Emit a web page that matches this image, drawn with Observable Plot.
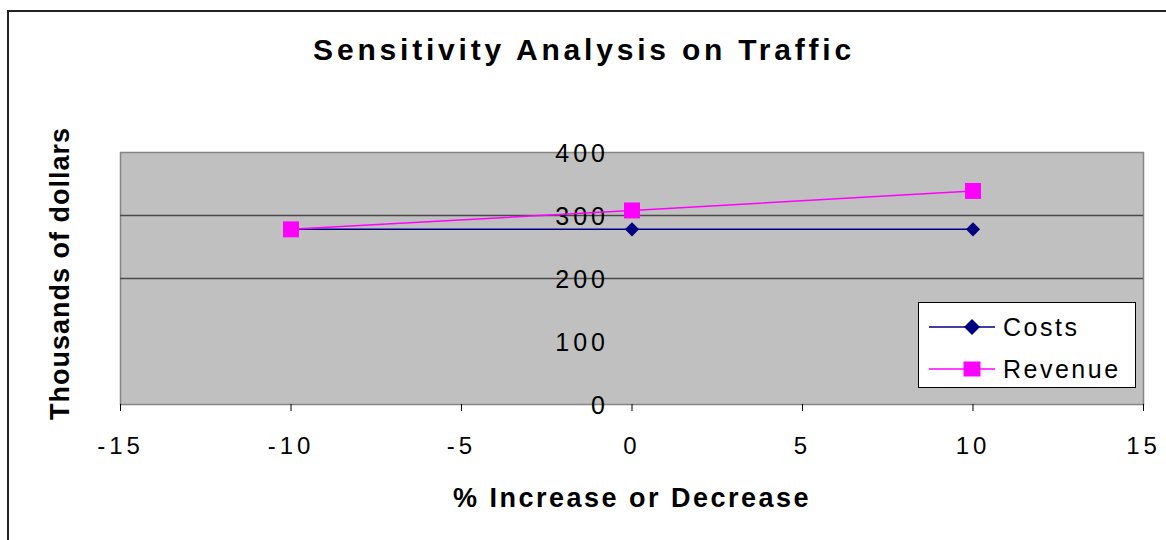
<!DOCTYPE html>
<html>
<head>
<meta charset="utf-8">
<script src="https://cdn.jsdelivr.net/npm/d3@7"></script>
<script src="https://cdn.jsdelivr.net/npm/@observablehq/plot@0.6"></script>
<style>
  html, body { margin: 0; padding: 0; background: #fff; }
  body { width: 1166px; height: 540px; overflow: hidden; position: relative; font-family: "Liberation Sans", Arial, sans-serif; }
  #outer { position: absolute; left: 7px; top: 10px; width: 1300px; height: 700px; border-left: 2px solid #222; border-top: 2px solid #222; box-sizing: border-box; }
  #chart { position: absolute; left: 0; top: 0; }
  #chart svg { background: transparent; font-family: "Liberation Sans", Arial, sans-serif; }
  g[aria-label="x-axis tick label"] text { letter-spacing: 4px; }
  #legend { position: absolute; left: 918px; top: 302px; width: 218px; height: 86px; background: #fff; border: 1.5px solid #000; box-sizing: border-box; }
  #legend .row { position: absolute; left: 0; height: 40px; width: 216px; }
  #legend svg { position: absolute; left: 10px; top: 0; }
  #legend span { position: absolute; left: 84px; top: 6px; font-size: 25px; letter-spacing: 2.5px; color: #000; line-height: 28px; }
</style>
</head>
<body>
<div id="outer"></div>
<div id="chart"></div>
<div id="legend"></div>
<script>
// Data
const pctChange = [-10, 0, 10];
const costs = [278, 278, 278];
const revenue = [278, 308, 339];
const xTicks = [-15, -10, -5, 0, 5, 10, 15];
const yTicks = [0, 100, 200, 300, 400];
const gridValues = [200, 300];
const seriesNames = ["Costs", "Revenue"];
const seriesColors = ["#000080", "#ff00ff"];
const titleText = "Sensitivity Analysis on Traffic";
const xLabelText = "% Increase or Decrease";
const yLabelText = "Thousands of dollars";

const costsData = pctChange.map((x, i) => ({x, y: costs[i]}));
const revenueData = pctChange.map((x, i) => ({x, y: revenue[i]}));

const chart = Plot.plot({
  width: 1166,
  height: 540,
  marginLeft: 120,
  marginRight: 23,
  marginTop: 152,
  marginBottom: 136,
  style: {background: "transparent", fontFamily: "Liberation Sans, Arial, sans-serif"},
  x: {domain: [-15, 15], ticks: xTicks},
  y: {domain: [0, 400], axis: null},
  marks: [
    Plot.frame({fill: "#c0c0c0", stroke: "#858585", strokeWidth: 1.5}),
    Plot.ruleY(gridValues, {stroke: "#4a4a4a", strokeWidth: 1.5}),
    Plot.axisX({ticks: xTicks, tickSize: 7, tickPadding: 25, fontSize: 24, label: null, stroke: "#000", tickFormat: d => String(d)}),
    Plot.text(yTicks, {x: () => 0, y: d => d, text: d => String(d), textAnchor: "end", dx: -23, dy: 1, fontSize: 25, fill: "#000"}),
    Plot.line(costsData, {x: "x", y: "y", stroke: seriesColors[0], strokeWidth: 1.5}),
    Plot.line(revenueData, {x: "x", y: "y", stroke: seriesColors[1], strokeWidth: 1.5}),
    Plot.dot(costsData, {x: "x", y: "y", symbol: "diamond2", r: 6.4, fill: seriesColors[0], stroke: "none"}),
    Plot.dot(revenueData, {x: "x", y: "y", symbol: "square", r: 9, fill: seriesColors[1], stroke: "none"}),
    Plot.text([titleText], {frameAnchor: "top", lineAnchor: "middle", textAnchor: "middle", dx: -48, dy: -102, fontSize: 30, fontWeight: "bold", fill: "#000"}),
    Plot.text([xLabelText], {frameAnchor: "bottom", lineAnchor: "middle", textAnchor: "middle", dy: 94, fontSize: 27, fontWeight: "bold", fill: "#000"}),
    Plot.text([yLabelText], {frameAnchor: "left", lineAnchor: "middle", textAnchor: "middle", rotate: -90, dx: -60, dy: -5, fontSize: 27, fontWeight: "bold", fill: "#000"})
  ]
});
document.getElementById("chart").appendChild(chart);

// letter spacing to mimic the original rendering
const spacing = new Map([[titleText, "3.8px"], [xLabelText, "2.5px"], [yLabelText, "1px"]]);
yTicks.forEach(t => spacing.set(String(t), "4px"));
d3.select(chart).selectAll("text").each(function() {
  const s = spacing.get(this.textContent);
  if (s && !this.closest('g[aria-label="x-axis tick label"]')) this.style.letterSpacing = s;
});

// Legend
const legend = document.getElementById("legend");
const symbols = ["diamond", "square"];
seriesNames.forEach((name, i) => {
  const row = document.createElement("div");
  row.className = "row";
  row.style.top = (i === 0 ? 4 : 46) + "px";
  const cy = 20;
  let marker;
  if (symbols[i] === "diamond") {
    marker = `<path d="M${43 - 8},${cy} L43,${cy - 8} L${43 + 8},${cy} L43,${cy + 8} Z" fill="${seriesColors[i]}"/>`;
  } else {
    marker = `<rect x="${43 - 8.5}" y="${cy - 7.5}" width="17" height="15" fill="${seriesColors[i]}"/>`;
  }
  row.innerHTML = `<svg width="80" height="40"><line x1="0" x2="66" y1="${cy}" y2="${cy}" stroke="${seriesColors[i]}" stroke-width="1.5"/>${marker}</svg><span>${name}</span>`;
  legend.appendChild(row);
});
</script>
</body>
</html>
